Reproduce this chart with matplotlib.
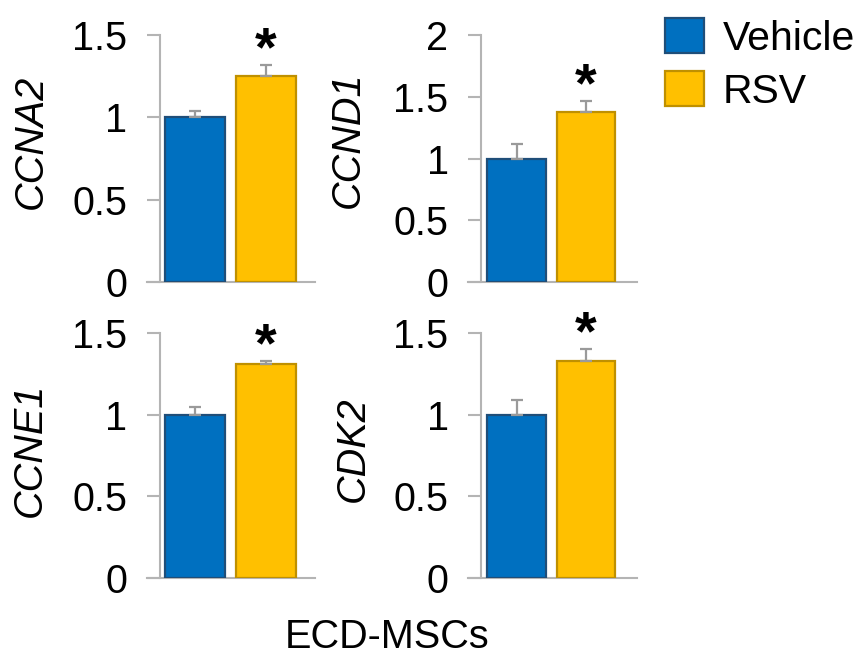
"""
Cell-cycle gene expression in ECD-MSCs, vehicle vs RSV (relative mRNA levels).
Four small bar panels with SEM error bars, shared legend on the right.
"""
import matplotlib
matplotlib.use('Agg')
import matplotlib.pyplot as plt
from matplotlib.patches import Patch

plt.rcParams['font.family'] = ['Liberation Sans', 'DejaVu Sans']

# ---- data ----
GENES        = ['CCNA2', 'CCND1', 'CCNE1', 'CDK2']
VEHICLE_MEAN = [1.00, 1.00, 1.00, 1.00]
VEHICLE_ERR  = [0.04, 0.12, 0.05, 0.09]
RSV_MEAN     = [1.25, 1.38, 1.31, 1.33]
RSV_ERR      = [0.065, 0.085, 0.02, 0.07]
Y_MAX        = [1.5, 2.0, 1.5, 1.5]
TICK_LABELS  = {1.5: ['0', '0.5', '1', '1.5'], 2.0: ['0', '0.5', '1', '1.5', '2']}
GROUPS       = ['Vehicle', 'RSV']
SIGNIF       = ['*', '*', '*', '*']

BLUE, BLUE_EDGE = '#0070C0', '#1F4E79'
GOLD, GOLD_EDGE = '#FFC000', '#BF9000'
AX_GREY  = '#B4B4B4'
ERR_GREY = '#9A9A9A'
FS = 28.5

W, H = 861, 658
# panel boxes in pixels: (left, right, top, bottom, spine_x, bar spacing)
PANELS = [
    (147, 315, 35, 282, 160, 71.0),
    (468, 637, 35, 282, 481, 69.5),
    (147, 315, 333, 578, 160, 71.0),
    (468, 637, 333, 578, 481, 69.5),
]
YLABEL_XY = [(31, 142), (348, 140), (30, 450), (353, 449)]

fig = plt.figure(figsize=(W / 100, H / 100), dpi=100)

for i, gene in enumerate(GENES):
    l, r, t, b, sx, step = PANELS[i]
    ax = fig.add_axes([l / W, 1 - b / H, (r - l) / W, (b - t) / H])
    first = sx + 35 if step > 70 else sx + 35.5   # centre of first bar (px)
    ax.set_xlim((l - first) / step, (r - first) / step)
    ax.set_ylim(0, Y_MAX[i])

    kw = dict(width=0.845, linewidth=1.6, zorder=3,
              error_kw=dict(ecolor=ERR_GREY, elinewidth=1.6, capsize=4.5, capthick=1.6))
    ax.bar([0], [VEHICLE_MEAN[i]], yerr=[[0], [VEHICLE_ERR[i]]],
           color=BLUE, edgecolor=BLUE_EDGE, **kw)
    ax.bar([1], [RSV_MEAN[i]], yerr=[[0], [RSV_ERR[i]]],
           color=GOLD, edgecolor=GOLD_EDGE, **kw)

    # significance star above the RSV error bar
    star_fs = 40
    ax.annotate(SIGNIF[i], xy=(1, RSV_MEAN[i] + RSV_ERR[i]),
                xytext=(0, 23 - 0.58 * star_fs), textcoords='offset points',
                ha='center', va='baseline', fontsize=star_fs, fontweight='bold')

    # axes styling: grey Excel-like axis lines
    for s in ('top', 'right'):
        ax.spines[s].set_visible(False)
    ax.spines['left'].set_position(('axes', (sx - l) / (r - l)))
    for s in ('left', 'bottom'):
        ax.spines[s].set_color(AX_GREY)
        ax.spines[s].set_linewidth(1.5)
    ax.set_xticks([])
    labels = TICK_LABELS[Y_MAX[i]]
    ax.set_yticks([k * 0.5 for k in range(len(labels))])
    ax.set_yticklabels(labels)
    ax.tick_params(axis='y', direction='out', length=9.4, width=1.5,
                   color=AX_GREY, pad=14, labelsize=FS)
    ax.patch.set_visible(False)

    lx, ly = YLABEL_XY[i]
    fig.text(lx / W, 1 - ly / H, gene, rotation=90, ha='center', va='center',
             fontsize=FS, style='italic')

fig.text(387 / W, 1 - 637 / H, 'ECD-MSCs', ha='center', va='center', fontsize=FS)

handles = [Patch(facecolor=BLUE, edgecolor=BLUE_EDGE, linewidth=1.6),
           Patch(facecolor=GOLD, edgecolor=GOLD_EDGE, linewidth=1.6)]
fig.legend(handles, GROUPS, loc='upper left', bbox_to_anchor=(665 / W, 1 - 18 / H),
           frameon=False, fontsize=29.5, borderpad=0, borderaxespad=0,
           handlelength=0.95, handleheight=0.95, handletextpad=0.45,
           labelspacing=0.32)

plt.savefig('out.png', dpi=100)
